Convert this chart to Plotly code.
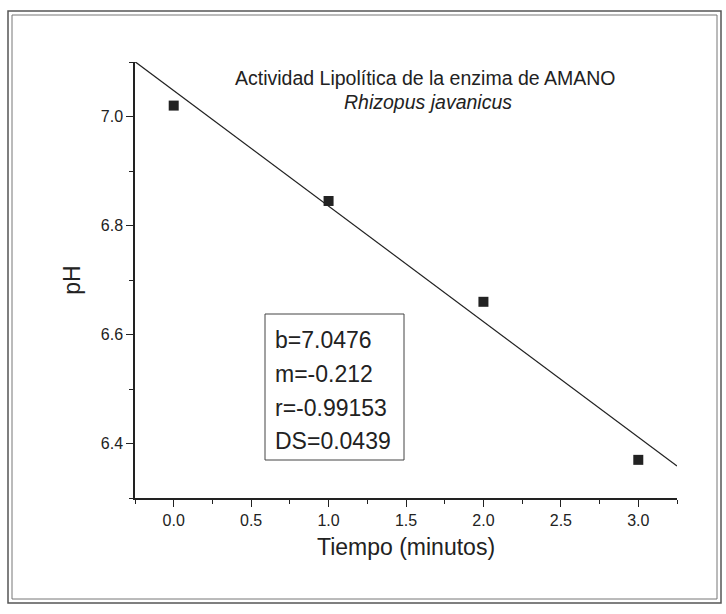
import plotly.graph_objects as go

# ---- data ----
tiempo = [0.0, 1.0, 2.0, 3.0]
ph = [7.02, 6.845, 6.66, 6.37]
b_fit = 7.0476
m_fit = -0.212
stats_labels = ["b=7.0476", "m=-0.212", "r=-0.99153", "DS=0.0439"]
x_ticks = [0.0, 0.5, 1.0, 1.5, 2.0, 2.5, 3.0]
y_ticks = [6.4, 6.6, 6.8, 7.0]
x_range = [-0.25, 3.25]
y_range = [6.3, 7.1]

W, H = 726, 614
L, R, T, B = 135, 49, 62, 116
PW, PH = W - L - R, H - T - B


def px(xp):
    return (xp - L) / PW


def py(yp):
    return (H - B - yp) / PH


FONT = "Liberation Sans, Arial, sans-serif"
INK = "#222222"

fig = go.Figure()

fit_x = x_range
fit_y = [b_fit + m_fit * xv for xv in fit_x]
fig.add_trace(go.Scatter(x=fit_x, y=fit_y, mode="lines",
                         line=dict(color=INK, width=1.2), showlegend=False,
                         hoverinfo="skip"))
fig.add_trace(go.Scatter(x=tiempo, y=ph, mode="markers",
                         marker=dict(symbol="square", size=10, color=INK),
                         showlegend=False))

axis_common = dict(
    showgrid=False, zeroline=False, showline=True, linecolor=INK, linewidth=1.5,
    ticks="outside", ticklen=7, tickwidth=1.3, tickcolor=INK,
    tickfont=dict(family=FONT, size=16, color=INK),
)

fig.update_xaxes(range=x_range, tickvals=x_ticks,
                 ticktext=[f"{v:.1f}" for v in x_ticks],
                 minor=dict(dtick=0.25, ticklen=4, tickcolor=INK, ticks="outside", tick0=0),
                 title=dict(text="Tiempo (minutos)", font=dict(family=FONT, size=23, color=INK),
                            standoff=11),
                 **axis_common)
fig.update_yaxes(range=y_range, tickvals=y_ticks,
                 ticktext=[f"{v:.1f}" for v in y_ticks],
                 minor=dict(dtick=0.1, ticklen=4, tickcolor=INK, ticks="outside", tick0=6.3),
                 title=dict(text="pH", font=dict(family=FONT, size=23, color=INK),
                            standoff=14),
                 **axis_common)

annotations = [
    dict(text="Actividad Lipolítica de la enzima de AMANO", x=px(425), y=py(78),
         xref="paper", yref="paper", xanchor="center", yanchor="middle", showarrow=False,
         font=dict(family=FONT, size=19.5, color=INK)),
    dict(text="<i>Rhizopus javanicus</i>", x=px(428), y=py(102),
         xref="paper", yref="paper", xanchor="center", yanchor="middle", showarrow=False,
         font=dict(family=FONT, size=19.5, color=INK)),
]
line_y = [340, 374, 408, 441]
for lbl, yy in zip(stats_labels, line_y):
    annotations.append(dict(text=lbl, x=px(273), y=py(yy), xref="paper", yref="paper",
                            xanchor="left", yanchor="middle", showarrow=False,
                            font=dict(family=FONT, size=23, color=INK)))

shapes = [
    dict(type="rect", xref="paper", yref="paper", x0=px(265), x1=px(404),
         y0=py(460), y1=py(314), line=dict(color="#444444", width=1)),
    dict(type="rect", xref="paper", yref="paper", x0=px(8), x1=px(721),
         y0=py(603), y1=py(11), line=dict(color="#555555", width=1.5)),
    dict(type="rect", xref="paper", yref="paper", x0=px(12), x1=px(717),
         y0=py(599), y1=py(15), line=dict(color="#777777", width=1)),
]

fig.update_layout(width=W, height=H, margin=dict(l=L, r=R, t=T, b=B, autoexpand=False),
                  plot_bgcolor="white", paper_bgcolor="white",
                  annotations=annotations, shapes=shapes,
                  font=dict(family=FONT, color=INK))

fig.write_html("out.html", config={"displayModeBar": False},
               post_script="document.body.style.margin='0';")
